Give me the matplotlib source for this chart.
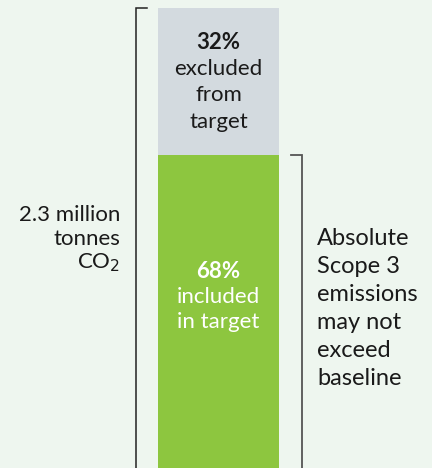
import matplotlib
matplotlib.use("Agg")
import matplotlib.pyplot as plt

# Share of emissions covered by target
segments = ["included in target", "excluded from target"]
shares = [68, 32]
colors = ["#8dc63f", "#d3dadf"]
seg_labels = [["68%", "included", "in target"], ["32%", "excluded", "from", "target"]]
total_label = ["2.3 million", "tonnes", "CO$_2$"]
target_note = ["Absolute", "Scope 3", "emissions", "may not", "exceed", "baseline"]

bg = "#eef6ef"
plt.rcParams['font.family'] = ['Lato', 'DejaVu Sans']

fig = plt.figure(figsize=(4.32, 4.68), dpi=100, facecolor=bg)
ax = fig.add_axes([0, 0, 1, 1])
ax.set_facecolor(bg)
ax.set_xlim(0, 432)
ax.set_ylim(0, 100 * 468 / 460.5)
ax.axis("off")

bar_x, bar_w = 218.5, 121
bottom = 0
for share, col in zip(shares, colors):
    ax.bar(bar_x, share, width=bar_w, bottom=bottom, color=col, linewidth=0)
    bottom += share
total = bottom

# segment labels, one line at a time
def stack_text(x, y0, lines, step, ha, color, size, bold_first=False):
    for i, line in enumerate(lines):
        w = "bold" if (bold_first and i == 0) else "normal"
        ax.text(x, y0 - i * step, line, ha=ha, va="center", color=color,
                fontsize=size, fontweight=w)

stack_text(bar_x, 42.6, seg_labels[0], 5.4, "center", "white", 16, True)
stack_text(bar_x, 92.3, seg_labels[1], 5.7, "center", "#1a1a1a", 16, True)

# left bracket: whole bar
ax.plot([147, 136, 136], [total, total, -2], color="#222222", lw=1.1,
        solid_joinstyle="miter", clip_on=False)
stack_text(120, 54.9, total_label, 5.15, "right", "#1a1a1a", 16)

# right bracket: included part
ax.plot([291, 302, 302], [shares[0], shares[0], -2], color="#555555", lw=1.3,
        solid_joinstyle="miter", clip_on=False)
stack_text(317, 49.9, target_note, 6.08, "left", "#1a1a1a", 17)

fig.savefig("out.png", dpi=100, facecolor=bg)
